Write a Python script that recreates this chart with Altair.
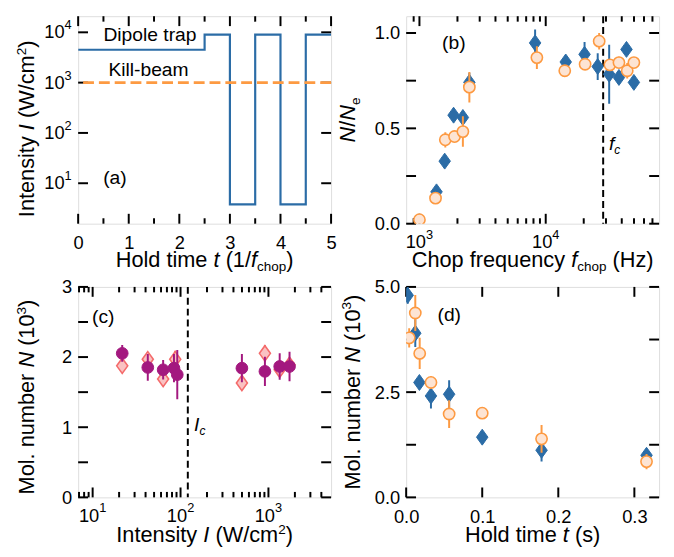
import altair as alt
import pandas as pd

# ---------------- data ----------------
# (a) intensity sequence
a_t = [0, 2.5, 3, 3.5, 4, 4.5, 5]
a_trap = [4500, 9000, 3.8, 9000, 3.8, 9000, 9000]
a_kill = 1000

# (b) survival vs chop frequency
b_f_blue = [1365, 1585, 1864, 2208, 2485, 8240, 14400, 20300, 25800, 31800, 38000, 43600, 49900]
b_y_blue = [0.167, 0.328, 0.569, 0.557, 0.741, 0.948, 0.848, 0.888, 0.824, 0.784, 0.767, 0.914, 0.741]
b_e_blue = [0.02, 0.02, 0.03, 0.03, 0.05, 0.07, 0.02, 0.065, 0.07, 0.155, 0.03, 0.03, 0.03]
b_f_orange = [1000, 1341, 1603, 1897, 2208, 2485, 8510, 14150, 20500, 26500, 32200, 38000, 44200, 49900]
b_y_orange = [0.021, 0.134, 0.44, 0.457, 0.483, 0.716, 0.871, 0.802, 0.836, 0.957, 0.833, 0.845, 0.802, 0.845]
b_e_orange = [0.02, 0.02, 0.04, 0.03, 0.08, 0.08, 0.06, 0.02, 0.03, 0.043, 0.02, 0.03, 0.04, 0.02]
b_fc = 28500

# (c) molecule number vs intensity
c_I_circ = [21.7, 42.4, 63.4, 84.2, 91.8, 499, 912, 1343, 1738]
c_N_circ = [2.053, 1.852, 1.819, 1.842, 1.749, 1.842, 1.796, 1.866, 1.866]
c_e_circ = [0.12, 0.19, 0.14, 0.2, 0.35, 0.2, 0.21, 0.19, 0.21]
c_I_diam = [21.7, 42.4, 63.4, 87, 499, 912, 1343, 1738]
c_N_diam = [1.875, 1.969, 1.688, 1.969, 1.631, 2.053, 1.819, 1.889]
c_e_diam = [0.08, 0.1, 0.1, 0.12, 0.1, 0.12, 0.1, 0.1]
c_Ic = 121

# (d) molecule number vs hold time
d_t_blue = [0.002, 0.012, 0.0174, 0.0326, 0.0565, 0.1, 0.178, 0.316]
d_N_blue = [4.80, 3.90, 2.73, 2.41, 2.45, 1.43, 1.12, 1.0]
d_e_blue = [0.2, 0.33, 0.15, 0.3, 0.33, 0.1, 0.27, 0.1]
d_t_orange = [0.004, 0.012, 0.0178, 0.0326, 0.0565, 0.1, 0.178, 0.316]
d_N_orange = [3.79, 4.38, 3.42, 2.73, 1.98, 2.0, 1.39, 0.85]
d_e_orange = [0.23, 0.43, 0.37, 0.15, 0.33, 0.05, 0.33, 0.18]

# tick values / labels
a_x_major = [0, 1, 2, 3, 4, 5]
a_x_minor = [0.5, 1.5, 2.5, 3.5, 4.5]
a_y_major = [10, 100, 1000, 10000]
a_y_exp = ["1", "2", "3", "4"]
b_x_major = [1000, 10000]
b_x_exp = ["3", "4"]
b_x_minor = [900, 2000, 3000, 4000, 5000, 6000, 7000, 8000, 9000,
             20000, 30000, 40000, 50000, 60000, 70000]
b_y_ticks = [0, 0.25, 0.5, 0.75, 1.0]
b_y_labels = [0, 0.5, 1.0]
c_x_major = [10, 100, 1000]
c_x_exp = ["1", "2", "3"]
c_x_minor = [7, 8, 9, 20, 30, 40, 50, 60, 70, 80, 90,
             200, 300, 400, 500, 600, 700, 800, 900, 2000, 3000, 4000]
c_y_ticks = [0, 0.5, 1, 1.5, 2, 2.5, 3]
c_y_labels = [0, 1, 2, 3]
d_x_ticks = [0, 0.1, 0.2, 0.3]
d_y_ticks = [0, 1.25, 2.5, 3.75, 5]
d_y_labels = [0, 2.5, 5]

# ---------------- style ----------------
FONT = "Liberation Sans"
TICK_FS = 18.5
TITLE_FS = 22
ANN_FS = 19.5
SUBR = 0.62
BLUE = "#2b6ca6"
ORANGE = "#fd9a42"
ORANGE_FILL = "#fde4d3"
PURPLE = "#a3187f"
PINK_EDGE = "#f46b6b"
PINK_FILL = "#fac2c2"
DIAMOND = "M0,-1L0.72,0L0,1L-0.72,0Z"
W = 256
H1 = 210
H2 = 213
MAJ = 10
MIN = 5.5
TICK_W = 2
XPAD = 10
YPAD = 6.5

AW = {' ': 278, '(': 333, ')': 333, '/': 278, '.': 278, '-': 333,
      'C': 722, 'D': 722, 'H': 722, 'I': 278, 'K': 667, 'M': 833, 'N': 722, 'W': 944,
      'a': 556, 'b': 556, 'c': 500, 'd': 556, 'e': 556, 'f': 278, 'h': 556, 'i': 222,
      'k': 500, 'l': 222, 'm': 833, 'n': 556, 'o': 556, 'p': 556, 'q': 556, 'r': 333,
      's': 500, 't': 278, 'u': 556, 'y': 500, 'z': 500}


def tw(s, fs):
    return sum(AW.get(ch, 556) for ch in s) * fs / 1000.0


ONE = pd.DataFrame({"k": [0]})


def rich(pieces, x0, y0, fs, rotate=False, center=True):
    """pieces: list of (text, kind) with kind n / i / sub / subi / sup.
    Vega trims text, so leading/trailing blanks are turned into position offsets."""
    layers = []
    sizes = [fs * SUBR if k in ("sub", "subi", "sup") else fs for _, k in pieces]
    widths = [tw(t, s) for (t, _), s in zip(pieces, sizes)]
    pos = -sum(widths) / 2 if center else 0
    for (t, k), s, w in zip(pieces, sizes, widths):
        lead = len(t) - len(t.lstrip(" "))
        start = pos + tw(" " * lead, s)
        dy = {"sub": 0.22 * fs, "subi": 0.22 * fs, "sup": -0.38 * fs}.get(k, 0)
        style = "italic" if k in ("i", "subi") else "normal"
        if rotate:
            x, y, ang = x0, y0 - start, 270
        else:
            x, y, ang = x0 + start, y0, 0
        layers.append(
            alt.Chart(ONE).mark_text(text=t.strip(" "), font=FONT, fontSize=s, fontStyle=style,
                                     align="left", baseline="alphabetic", angle=ang,
                                     dy=dy, color="black")
            .encode(x=alt.value(x), y=alt.value(y))
        )
        pos += w
    return layers


AX = dict(title=None, ticks=False, domain=False, grid=False, labelFlush=False,
          labelOverlap=False, labelFont=FONT, labelFontSize=TICK_FS, labelColor="black")


def xticks(vals, xs, xaxis, H, L):
    df = pd.DataFrame({"v": vals})
    base = alt.Chart(df).mark_rule(color="black", strokeWidth=TICK_W)
    return [
        base.encode(x=alt.X("v:Q", scale=xs, axis=xaxis), y=alt.value(H), y2=alt.value(H - L)),
        base.encode(x=alt.X("v:Q", scale=xs, axis=xaxis), y=alt.value(0), y2=alt.value(L)),
    ]


def yticks(vals, ys, yaxis, L):
    df = pd.DataFrame({"v": vals})
    base = alt.Chart(df).mark_rule(color="black", strokeWidth=TICK_W)
    return [
        base.encode(y=alt.Y("v:Q", scale=ys, axis=yaxis), x=alt.value(0), x2=alt.value(L)),
        base.encode(y=alt.Y("v:Q", scale=ys, axis=yaxis), x=alt.value(W - L), x2=alt.value(W)),
    ]


def log_xlabels(vals, exps, xs, H):
    df = pd.DataFrame({"v": vals, "e": exps})
    efs = TICK_FS * 0.7
    w10 = tw("10", TICK_FS)
    we = tw("1", efs)
    shift = (w10 + we) / 2 - we
    return [
        alt.Chart(df).mark_text(text="10", align="right", baseline="top", dx=shift,
                                font=FONT, fontSize=TICK_FS, color="black")
        .encode(x=alt.X("v:Q", scale=xs, axis=None), y=alt.value(H + XPAD)),
        alt.Chart(df).mark_text(align="left", baseline="top", dx=shift, dy=-5,
                                font=FONT, fontSize=efs, color="black")
        .encode(x=alt.X("v:Q", scale=xs, axis=None), y=alt.value(H + XPAD), text="e:N"),
    ]


def log_ylabels(vals, exps, ys):
    df = pd.DataFrame({"v": vals, "e": exps})
    efs = TICK_FS * 0.7
    we = tw("1", efs)
    return [
        alt.Chart(df).mark_text(text="10", align="right", baseline="middle",
                                font=FONT, fontSize=TICK_FS, color="black")
        .encode(y=alt.Y("v:Q", scale=ys, axis=None), x=alt.value(-YPAD - we)),
        alt.Chart(df).mark_text(align="right", baseline="middle", dy=-7,
                                font=FONT, fontSize=efs, color="black")
        .encode(y=alt.Y("v:Q", scale=ys, axis=None), x=alt.value(-YPAD), text="e:N"),
    ]


def errbars(xv, yv, ev, xs, ys, xaxis, yaxis, color):
    df = pd.DataFrame({"x": xv, "lo": [a - b for a, b in zip(yv, ev)],
                       "hi": [a + b for a, b in zip(yv, ev)]})
    return alt.Chart(df).mark_rule(color=color, strokeWidth=2, clip=True).encode(
        x=alt.X("x:Q", scale=xs, axis=xaxis), y=alt.Y("lo:Q", scale=ys, axis=yaxis), y2="hi:Q")


def points(xv, yv, xs, ys, xaxis, yaxis, shape, size, fill, stroke, sw):
    df = pd.DataFrame({"x": xv, "y": yv})
    return alt.Chart(df).mark_point(shape=shape, size=size, filled=True, fill=fill, stroke=stroke,
                                    strokeWidth=sw, opacity=1, fillOpacity=1, strokeOpacity=1,
                                    clip=True).encode(
        x=alt.X("x:Q", scale=xs, axis=xaxis), y=alt.Y("y:Q", scale=ys, axis=yaxis))


# ---------------- panel (a) ----------------
xs_a = alt.Scale(domain=[0, 5], nice=False, zero=False)
ys_a = alt.Scale(type="log", domain=[1.57, 20900], nice=False)
xax_a = alt.Axis(values=a_x_major, format="d", labelPadding=XPAD, **AX)
df_a = pd.DataFrame({"t": a_t, "I": a_trap})
layers_a = (
    xticks(a_x_major, xs_a, xax_a, H1, MAJ) + xticks(a_x_minor, xs_a, xax_a, H1, MIN)
    + yticks(a_y_major, ys_a, None, MAJ)
    + [
        alt.Chart(df_a).mark_line(interpolate="step-after", color=BLUE, strokeWidth=2.2, clip=True)
        .encode(x=alt.X("t:Q", scale=xs_a, axis=xax_a), y=alt.Y("I:Q", scale=ys_a, axis=None)),
        alt.Chart(ONE).mark_rule(color=ORANGE, strokeWidth=2.6, strokeDash=[11, 5])
        .encode(y=alt.YDatum(a_kill, scale=ys_a, axis=None)),
    ]
    + log_ylabels(a_y_major, a_y_exp, ys_a)
    + rich([("Dipole trap", "n")], 25.6, 25, ANN_FS, center=False)
    + rich([("Kill-beam", "n")], 30.6, 61, ANN_FS, center=False)
    + rich([("(a)", "n")], 25.3, 170.3, ANN_FS, center=False)
    + rich([("Hold time ", "n"), ("t", "i"), (" (1/", "n"), ("f", "i"), ("chop", "sub"), (")", "n")],
           W / 2, H1 + 43.5, TITLE_FS)
    + rich([("Intensity ", "n"), ("I", "i"), (" (W/cm", "n"), ("2", "sup"), (")", "n")],
           -44.5, H1 / 2 + 9, TITLE_FS, rotate=True)
)
pa = alt.layer(*layers_a).properties(width=W, height=H1)

# ---------------- panel (b) ----------------
xs_b = alt.Scale(type="log", domain=[785, 79000], nice=False)
ys_b = alt.Scale(domain=[0, 1.088], nice=False, zero=False)
yax_b = alt.Axis(values=b_y_labels, format=".1f", labelPadding=YPAD, **AX)
layers_b = (
    xticks(b_x_major, xs_b, None, H1, MAJ) + xticks(b_x_minor, xs_b, None, H1, MIN)
    + yticks(b_y_ticks, ys_b, yax_b, MAJ)
    + [
        alt.Chart(ONE).mark_rule(color="black", strokeWidth=2, strokeDash=[7, 4])
        .encode(x=alt.XDatum(b_fc, scale=xs_b, axis=None)),
        errbars(b_f_blue, b_y_blue, b_e_blue, xs_b, ys_b, None, yax_b, BLUE),
        points(b_f_blue, b_y_blue, xs_b, ys_b, None, yax_b, DIAMOND, 260, BLUE, BLUE, 1),
        errbars(b_f_orange, b_y_orange, b_e_orange, xs_b, ys_b, None, yax_b, ORANGE),
        points(b_f_orange, b_y_orange, xs_b, ys_b, None, yax_b, "circle", 130, ORANGE_FILL, ORANGE, 1.6),
    ]
    + log_xlabels(b_x_major, b_x_exp, xs_b, H1)
    + rich([("(b)", "n")], 36.3, 33, ANN_FS, center=False)
    + rich([("f", "i"), ("c", "subi")], 205.3, 135.3, ANN_FS, center=False)
    + rich([("Chop frequency ", "n"), ("f", "i"), ("chop", "sub"), (" (Hz)", "n")],
           W / 2, H1 + 43.5, TITLE_FS)
    + rich([("N", "i"), ("/", "n"), ("N", "i"), ("e", "sub")],
           -52, H1 / 2, TITLE_FS, rotate=True)
)
pb = alt.layer(*layers_b).properties(width=W, height=H1)

# ---------------- panel (c) ----------------
xs_c = alt.Scale(type="log", domain=[6.84, 5160], nice=False)
ys_c = alt.Scale(domain=[0, 3], nice=False, zero=False)
yax_c = alt.Axis(values=c_y_labels, format="d", labelPadding=YPAD, **AX)
layers_c = (
    xticks(c_x_major, xs_c, None, H2, MAJ) + xticks(c_x_minor, xs_c, None, H2, MIN)
    + yticks(c_y_ticks, ys_c, yax_c, MAJ)
    + [
        alt.Chart(ONE).mark_rule(color="black", strokeWidth=2, strokeDash=[7, 4])
        .encode(x=alt.XDatum(c_Ic, scale=xs_c, axis=None)),
        errbars(c_I_diam, c_N_diam, c_e_diam, xs_c, ys_c, None, yax_c, PINK_EDGE),
        points(c_I_diam, c_N_diam, xs_c, ys_c, None, yax_c, DIAMOND, 240, PINK_FILL, PINK_EDGE, 1.6),
        errbars(c_I_circ, c_N_circ, c_e_circ, xs_c, ys_c, None, yax_c, PURPLE),
        points(c_I_circ, c_N_circ, xs_c, ys_c, None, yax_c, "circle", 140, PURPLE, PURPLE, 1),
    ]
    + log_xlabels(c_x_major, c_x_exp, xs_c, H2)
    + rich([("(c)", "n")], 14, 37, ANN_FS, center=False)
    + rich([("I", "i"), ("c", "subi")], 117.3, 145.4, ANN_FS, center=False)
    + rich([("Intensity ", "n"), ("I", "i"), (" (W/cm", "n"), ("2", "sup"), (")", "n")],
           W / 2, H2 + 45.5, TITLE_FS)
    + rich([("Mol. number ", "n"), ("N", "i"), (" (10", "n"), ("3", "sup"), (")", "n")],
           -44.5, H2 / 2 + 5, TITLE_FS, rotate=True)
)
pc = alt.layer(*layers_c).properties(width=W, height=H2)

# ---------------- panel (d) ----------------
xs_d = alt.Scale(domain=[0, 0.3325], nice=False, zero=False)
ys_d = alt.Scale(domain=[0, 5], nice=False, zero=False)
xax_d = alt.Axis(values=d_x_ticks, format=".1f", labelPadding=XPAD, **AX)
yax_d = alt.Axis(values=d_y_labels, format=".1f", labelPadding=YPAD, **AX)
layers_d = (
    xticks(d_x_ticks, xs_d, xax_d, H2, MAJ)
    + yticks(d_y_ticks, ys_d, yax_d, MAJ)
    + [
        errbars(d_t_blue, d_N_blue, d_e_blue, xs_d, ys_d, xax_d, yax_d, BLUE),
        points(d_t_blue, d_N_blue, xs_d, ys_d, xax_d, yax_d, DIAMOND, 260, BLUE, BLUE, 1),
        errbars(d_t_orange, d_N_orange, d_e_orange, xs_d, ys_d, xax_d, yax_d, ORANGE),
        points(d_t_orange, d_N_orange, xs_d, ys_d, xax_d, yax_d, "circle", 130, ORANGE_FILL, ORANGE, 1.6),
    ]
    + rich([("(d)", "n")], 31.7, 34, ANN_FS, center=False)
    + rich([("Hold time ", "n"), ("t", "i"), (" (s)", "n")], W / 2, H2 + 45.5, TITLE_FS)
    + rich([("Mol. number ", "n"), ("N", "i"), (" (10", "n"), ("3", "sup"), (")", "n")],
           -47, H2 / 2, TITLE_FS, rotate=True)
)
pd_ = alt.layer(*layers_d).properties(width=W, height=H2)

chart = (
    alt.concat(pa, pb, pc, pd_, columns=2, spacing={"row": 64, "column": 76}, bounds="flush")
    .properties(padding={"left": 6, "top": 3, "right": 5, "bottom": 3})
    .configure_view(stroke="black", strokeWidth=3)
    .configure(font=FONT)
)

chart.save("out.html", embed_options={"renderer": "svg", "actions": False})
